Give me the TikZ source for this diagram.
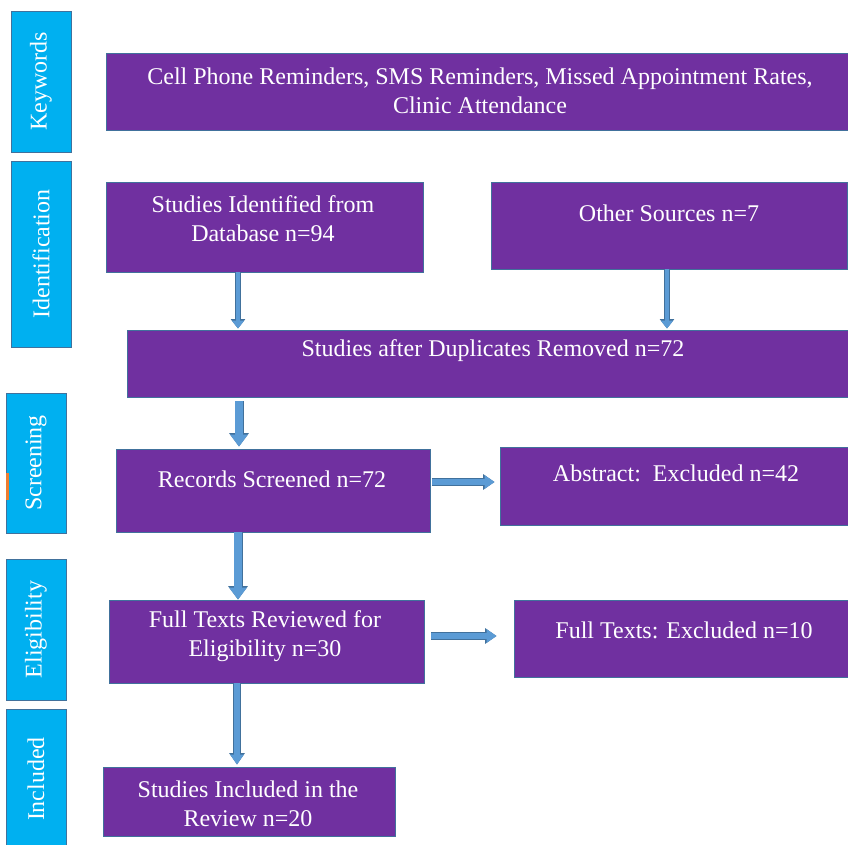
\documentclass[tikz,border=0pt]{standalone}
\usepackage{fontspec}
\setmainfont{Liberation Serif}
\usetikzlibrary{arrows.meta}
\definecolor{pfill}{HTML}{7030A0}
\definecolor{cfill}{HTML}{00B0F0}
\definecolor{edge}{HTML}{41719C}
\definecolor{afill}{HTML}{5B9BD5}
\definecolor{aedge}{HTML}{41719C}
\definecolor{omark}{HTML}{ED7D31}
\tikzset{
  pbox/.style={draw=edge, line width=0.9pt, fill=pfill, inner sep=0pt},
  sbox/.style={draw=edge, line width=0.9pt, fill=cfill, inner sep=0pt, minimum width=60pt},
  txt/.style={text=white, font=\fontsize{24}{29}\selectfont, align=center, inner sep=0pt},
  stxt/.style={text=white, font=\fontsize{24}{29}\selectfont, rotate=90, inner sep=0pt},
  thinarrow/.style={draw=afill, line width=4pt, -{Triangle[width=12pt,length=8pt]},
    preaction={draw=aedge, line width=5.5pt, -{Triangle[width=14pt,length=9.5pt]}}},
  midarrow/.style={draw=afill, line width=6pt, -{Triangle[width=13pt,length=10pt]},
    preaction={draw=aedge, line width=7.5pt, -{Triangle[width=15pt,length=11.5pt]}}},
  bigarrow/.style={draw=afill, line width=7.5pt, -{Triangle[width=17pt,length=12pt]},
    preaction={draw=aedge, line width=9pt, -{Triangle[width=19pt,length=13.5pt]}}},
}
\begin{document}
\begin{tikzpicture}[x=1pt, y=-1pt]
\useasboundingbox (0,0) rectangle (848,845);
\clip (0,0) rectangle (848,845);
\fill[white] (0,0) rectangle (848,845);

% side phase boxes
\node[sbox, minimum height=141pt] (s1) at (41,81.5) {};
\node[sbox, minimum height=186pt] (s2) at (41,254) {};
\node[sbox, minimum height=140pt] (s3) at (36,463) {};
\node[sbox, minimum height=141pt] (s4) at (36,629.5) {};
\node[sbox, minimum height=151pt] (s5) at (36,784.5) {};
\node[stxt] (t1) at (s1.center) {Keywords};
\node[stxt] (t2) at (s2.center) {Identification};
\node[stxt] (t3) at (s3.center) {Screening};
\node[stxt] (t4) at (s4.center) {Eligibility};
\node[stxt] (t5) at (36,779) {Included};
\fill[omark] (6,473) rectangle (9,500);

% purple boxes
\node[pbox, minimum width=756pt, minimum height=77pt] (kw) at (484,91.5) {};
\node[pbox, minimum width=317pt, minimum height=90pt] (idd) at (264.5,227) {};
\node[pbox, minimum width=356pt, minimum height=87pt] (oth) at (669,225.5) {};
\node[pbox, minimum width=735pt, minimum height=67pt] (dup) at (494.5,363.5) {};
\node[pbox, minimum width=314pt, minimum height=83pt] (scr) at (273,490.5) {};
\node[pbox, minimum width=362pt, minimum height=78pt] (abs) at (681,486) {};
\node[pbox, minimum width=315pt, minimum height=83pt] (ft) at (266.5,641.5) {};
\node[pbox, minimum width=348pt, minimum height=77pt] (fte) at (688,638.5) {};
\node[pbox, minimum width=292pt, minimum height=69pt] (inc) at (249,801.5) {};

% texts
\node[txt] (kwt) at (480,90.5) {Cell Phone Reminders, SMS Reminders, Missed Appointment Rates,\\Clinic Attendance};
\node[txt] (iddt) at (263,218.5) {Studies Identified from\\Database n=94};
\node[txt] (otht) at (669,213) {Other Sources n=7};
\node[txt] (dupt) at (493,351) {Studies after Duplicates Removed n=72};
\node[txt] (scrt) at (272,479) {Records Screened n=72};
\node[txt] (abst) at (676,473) {Abstract:\ \ Excluded n=42};
\node[txt] (ftt) at (265,636.5) {Full Texts Reviewed for\\Eligibility n=30};
\node[txt] (ftet) at (684,630) {Full Texts: Excluded n=10};
\node[txt] (inct) at (248,803.5) {Studies Included in the\\Review n=20};

% arrow guide coordinates
\coordinate (xa) at (238,0);
\coordinate (xb) at (667,0);
\coordinate (xc) at (239,0);
\coordinate (xd) at (237,0);
\coordinate (ya) at (0,482);
\coordinate (yb) at (0,636);

% connectors
\draw[thinarrow, shorten >=1pt] (idd.south -| xa) -- (dup.north -| xa);
\draw[thinarrow, shorten >=1pt] (oth.south -| xb) -- (dup.north -| xb);
\draw[bigarrow, shorten <=4pt, shorten >=2pt] (dup.south -| xc) -- (scr.north -| xc);
\draw[bigarrow, shorten >=0pt] (scr.south -| xa) -- (ft.north -| xa);
\draw[midarrow, shorten >=2pt] (ft.south -| xd) -- (inc.north -| xd);
\draw[midarrow, shorten <=2pt, shorten >=5pt] (scr.east |- ya) -- (abs.west |- ya);
\draw[midarrow, shorten <=7pt, shorten >=17pt] (ft.east |- yb) -- (fte.west |- yb);
\end{tikzpicture}
\end{document}
